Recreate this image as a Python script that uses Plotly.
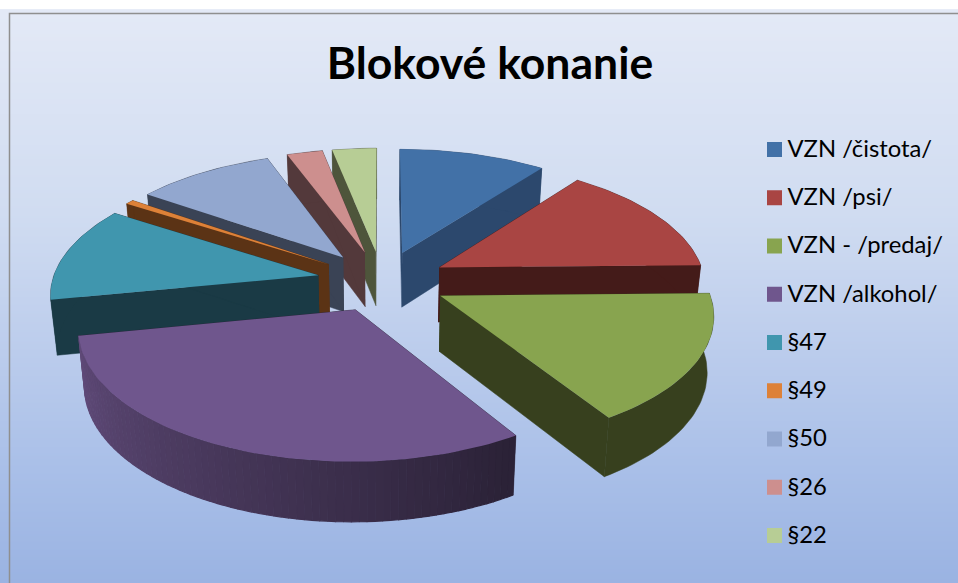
import numpy as np
import plotly.graph_objects as go

# ---- data ----
categories = ["VZN /čistota/", "VZN /psi/", "VZN - /predaj/", "VZN /alkohol/",
              "§47", "§49", "§50", "§26", "§22"]
values = [103, 144, 164, 308, 122, 6, 97, 25, 31]
top_colors = ["#4271a7", "#a94543", "#88a44f", "#6f568d", "#4096ae",
              "#dd8138", "#92a7cf", "#cd8f8e", "#b7cd95"]
wall_colors = ["#2c486d", "#441b19", "#37401e", "#3d2e4e", "#1a3a45",
               "#5b3315", "#3a4355", "#53393b", "#4e553b"]
draw_order = [0, 8, 7, 6, 5, 4, 1, 2, 3]

# ---- view of the tilted pie (layout only) ----
W, H = 958, 583
CX, CY, A, B, P, P_Z, DEPTH, EXPLODE = 382, 281, 266, 124, 0.13, 0.07, 55, 0.245
FONT = "Lato"


def project(px, py, z=0.0):
    s = 1 / (1 - P * py)
    x = CX + A * px * s * (1 - 0.02 * z)
    y = CY + B * py * s + DEPTH * z / (1 - P_Z * py)
    return x, y


def rgb(c):
    return np.array([int(c[i:i + 2], 16) for i in (1, 3, 5)], float)


def poly(xs, ys, color, name, width=0.0):
    return go.Scatter(x=list(xs), y=list(ys), mode="lines", fill="toself",
                      fillcolor=color, line=dict(color=color, width=width),
                      hoverinfo="skip", showlegend=False, name=name)


fig = go.Figure()

# background gradient
grad_y = np.linspace(14, H, 60)
fig.add_trace(go.Heatmap(
    x=[10, W], y=grad_y, z=[[g, g] for g in grad_y], zsmooth="best", showscale=False,
    hoverinfo="skip", zmin=14, zmax=H,
    colorscale=[[0, "#e3e9f6"], [0.35, "#d0dcf1"], [0.55, "#bfcfed"],
                [0.8, "#a9bfe8"], [1, "#9ab3e2"]]))

# slices
fractions = np.array(values, float) / sum(values)
edges = np.concatenate([[0], np.cumsum(fractions)]) * 2 * np.pi
for i in draw_order:
    a0, a1 = edges[i], edges[i + 1]
    mid = (a0 + a1) / 2
    ox, oy = EXPLODE * np.sin(mid), -EXPLODE * np.cos(mid)
    t = np.linspace(a0, a1, max(6, int((a1 - a0) * 40)))
    rx, ry = ox + np.sin(t), oy - np.cos(t)
    name = categories[i]
    wall = wall_colors[i]

    # radial walls (behind the rim)
    for ex, ey in ((rx[0], ry[0]), (rx[-1], ry[-1])):
        px = np.array([ox, ex])
        py = np.array([oy, ey])
        x0, y0 = project(px, py, 0)
        x1, y1 = project(px, py, 1)
        fig.add_trace(poly(np.r_[x0, x1[::-1]], np.r_[y0, y1[::-1]],
                           wall if i != 3 else "#2b2237", name, 0.5))

    # outer wall
    if i == 3:  # shaded strip on the large slice
        dark, light = rgb("#2b2237"), rgb("#5f4a78")
        for k in range(len(t) - 1):
            f = k / (len(t) - 2)
            c = dark + (light - dark) * min(1, f * 1.05)
            col = "rgb(%d,%d,%d)" % tuple(c)
            x0, y0 = project(rx[k:k + 2], ry[k:k + 2], 0)
            x1, y1 = project(rx[k:k + 2], ry[k:k + 2], 1)
            fig.add_trace(poly(np.r_[x0, x1[::-1]], np.r_[y0, y1[::-1]], col, name, 1.2))
    else:
        x0, y0 = project(rx, ry, 0)
        x1, y1 = project(rx, ry, 1)
        fig.add_trace(poly(np.r_[x0, x1[::-1]], np.r_[y0, y1[::-1]], wall, name, 0.5))

    # top face
    xt, yt = project(np.r_[ox, rx], np.r_[oy, ry], 0)
    fig.add_trace(poly(xt, yt, top_colors[i], name))

# legend drawn as squares with labels
for n, (cat, col) in enumerate(zip(categories, top_colors)):
    fig.add_trace(go.Scatter(
        x=[774.5], y=[149.5 + 48.25 * n], mode="markers", name=cat,
        marker=dict(symbol="square", size=15, color=col),
        hoverinfo="skip", showlegend=False, cliponaxis=False))
    fig.add_trace(go.Scatter(
        x=[787.5], y=[151 + 48.25 * n], mode="text", text=[cat],
        textposition="middle right", name=cat,
        textfont=dict(family=FONT, size=23.8, color="#000000"),
        hoverinfo="skip", showlegend=False, cliponaxis=False))

fig.update_layout(
    width=W, height=H, margin=dict(l=0, r=0, t=0, b=0),
    paper_bgcolor="#ffffff", plot_bgcolor="#ffffff", showlegend=False,
    title=dict(text="<b>Blokové konanie</b>", x=490 / W, xanchor="center", xref="paper",
               y=1 - 63 / H, yanchor="middle", yref="paper",
               font=dict(family=FONT, size=44.5, color="#000000")),
    xaxis=dict(range=[0, W], visible=False, fixedrange=True),
    yaxis=dict(range=[H, 0], visible=False, fixedrange=True),
    shapes=[dict(type="rect", xref="x", yref="y", x0=9.5, y0=13.5, x1=W + 5, y1=H + 5,
                 line=dict(color="#8f8f8f", width=1.5), fillcolor="rgba(0,0,0,0)", layer="above")],
)
fig.write_html("out.html", config={"displayModeBar": False},
               post_script="document.body.style.margin='0';")
